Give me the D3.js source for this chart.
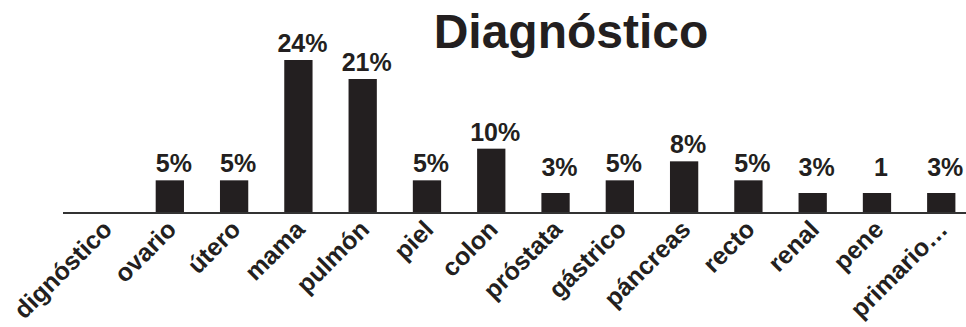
<!DOCTYPE html>
<html>
<head>
<meta charset="utf-8">
<script src="https://cdn.jsdelivr.net/npm/d3@7"></script>
<style>
  html, body { margin: 0; padding: 0; background: #fff; }
  svg { display: block; }
  text { font-family: "Liberation Sans", Arial, Helvetica, sans-serif; font-weight: bold; fill: #231f20; }
</style>
</head>
<body>
<svg id="chart" width="966" height="327"></svg>
<script>
// Diagnosis categories and their share of patients (%)
const categories = ["dignóstico", "ovario", "útero", "mama", "pulmón", "piel", "colon",
                    "próstata", "gástrico", "páncreas", "recto", "renal", "pene", "primario…"];
const values = [0, 5, 5, 24, 21, 5, 10, 3, 5, 8, 5, 3, 3, 3];
const valueLabels = ["", "5%", "5%", "24%", "21%", "5%", "10%", "3%", "5%", "8%", "5%", "3%", "1", "3%"];
const title = "Diagnóstico";

const svg = d3.select("#chart");
const W = 966, H = 327;
const baseY = 212;

const x = d3.scaleBand()
  .domain(categories)
  .range([73.4, 973.4])
  .paddingInner(0.56)
  .paddingOuter(0.28);

const y = d3.scaleLinear()
  .domain([0, 24])
  .range([baseY, 60]);

const rows = categories.map((c, i) => ({ cat: c, v: values[i], label: valueLabels[i] }));

// Bars
svg.append("g")
  .selectAll("rect")
  .data(rows)
  .join("rect")
  .attr("x", d => x(d.cat))
  .attr("width", x.bandwidth())
  .attr("y", d => y(d.v))
  .attr("height", d => y(0) - y(d.v))
  .attr("fill", "#231f20");

// Category axis (baseline without ticks)
const axis = svg.append("g")
  .attr("transform", `translate(0,${baseY + 1})`)
  .call(d3.axisBottom(x).tickSize(0).tickPadding(0));
axis.select(".domain").remove();
axis.append("line")
  .attr("x1", 63).attr("x2", W)
  .attr("y1", 0).attr("y2", 0)
  .attr("stroke", "#333")
  .attr("stroke-width", 2.2);
axis.selectAll(".tick text")
  .attr("font-size", 25)
  .attr("font-family", "Liberation Sans, Arial, sans-serif")
  .attr("font-weight", "bold")
  .attr("fill", "#231f20")
  .attr("text-anchor", "end")
  .attr("dy", null)
  .attr("y", null)
  .attr("transform", "translate(8,18) rotate(-45)");

// Value labels above bars
svg.append("g")
  .selectAll("text")
  .data(rows.filter(d => d.label))
  .join("text")
  .attr("x", d => x(d.cat) + x.bandwidth() / 2 + 4)
  .attr("y", d => Math.min(y(d.v) - 8, 176))
  .attr("text-anchor", "middle")
  .attr("font-size", 25)
  .text(d => d.label);

// Title
svg.append("text")
  .attr("x", 571)
  .attr("y", 48)
  .attr("text-anchor", "middle")
  .attr("font-size", 48)
  .text(title);
</script>
</body>
</html>
